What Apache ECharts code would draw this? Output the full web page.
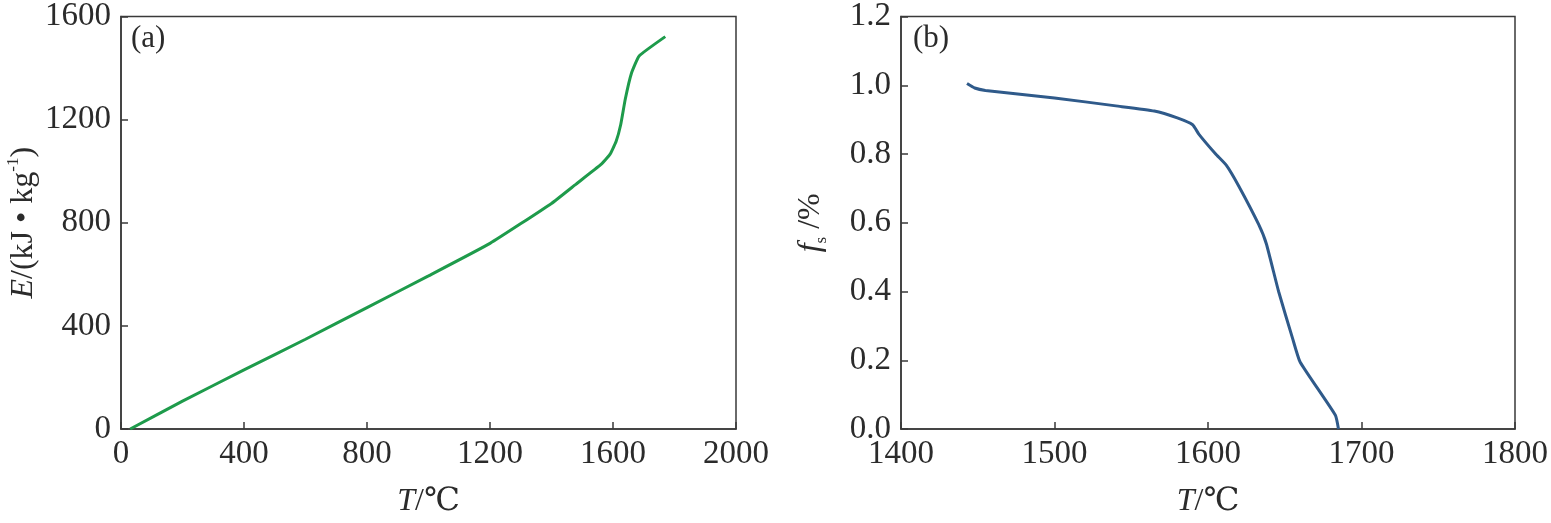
<!DOCTYPE html>
<html>
<head>
<meta charset="utf-8">
<script src="https://cdn.jsdelivr.net/npm/echarts@6/dist/echarts.min.js"></script>
<style>
html,body{margin:0;padding:0;background:#fff;}
#c{width:1551px;height:523px;}
</style>
</head>
<body>
<div id="c"></div>
<script>
// Panel (a): enthalpy E vs temperature T
const tempA = [30, 200, 400, 600, 800, 1000, 1200, 1400, 1480, 1560, 1590, 1610, 1625, 1640, 1660, 1685, 1770];
const enthalpyA = [0, 108, 229, 348, 471, 594, 720, 875, 950, 1025, 1065, 1115, 1180, 1280, 1380, 1447, 1522];
// Panel (b): solid fraction fs vs temperature T
const tempB = [1443, 1448, 1455, 1500, 1540, 1565, 1580, 1590, 1594, 1605, 1612, 1620, 1633, 1638, 1646, 1655, 1660, 1683, 1685];
const fracB = [1.005, 0.992, 0.985, 0.963, 0.940, 0.925, 0.905, 0.885, 0.858, 0.800, 0.767, 0.707, 0.595, 0.539, 0.400, 0.265, 0.195, 0.040, 0.0];
// Axis ticks
const xTicksA = [0, 400, 800, 1200, 1600, 2000];
const yTicksA = [0, 400, 800, 1200, 1600];
const xTicksB = [1400, 1500, 1600, 1700, 1800];
const yTicksB = [0.0, 0.2, 0.4, 0.6, 0.8, 1.0, 1.2];

const FONT = "'Liberation Serif','DejaVu Serif','Times New Roman',serif";
const TXT = '#2b2b2b';
const AX = '#3a3a3a';

function pairs(xs, ys){ return xs.map((x,i)=>[x, ys[i]]); }

function xAxisCfg(idx, ticks){
  return {
    type:'value', gridIndex: idx,
    min: ticks[0], max: ticks[ticks.length-1], interval: ticks[1]-ticks[0],
    name: '{i|T}/℃', nameLocation:'middle', nameGap: 57,
    nameTextStyle:{ fontFamily: FONT, fontSize: 32, color: TXT,
      rich:{ i:{ fontStyle:'italic', fontFamily: FONT, fontSize: 32, color: TXT } } },
    axisLine:{ show:true, lineStyle:{ color: AX, width: 1.5 } },
    axisTick:{ show:true, inside:true, length:7, lineStyle:{ color: AX, width: 1.5 } },
    axisLabel:{ fontFamily: FONT, fontSize: 33, color: TXT, margin: 9, formatter: v => String(v) },
    splitLine:{ show:false }
  };
}

function yAxisCfg(idx, ticks, decimals, name, rich, gap){
  return {
    type:'value', gridIndex: idx,
    min: ticks[0], max: ticks[ticks.length-1], interval: +(ticks[1]-ticks[0]).toFixed(6),
    name: name, nameLocation:'middle', nameGap: gap, nameRotate: 90,
    nameTextStyle:{ fontFamily: FONT, fontSize: 32, color: TXT, rich: rich },
    axisLine:{ show:true, lineStyle:{ color: AX, width: 1.5 } },
    axisTick:{ show:true, inside:true, length:7, lineStyle:{ color: AX, width: 1.5 } },
    axisLabel:{ fontFamily: FONT, fontSize: 33, color: TXT, margin: 10,
      formatter: v => decimals ? v.toFixed(decimals) : String(v) },
    splitLine:{ show:false }
  };
}

const chart = echarts.init(document.getElementById('c'), null, {renderer:'canvas'});
chart.setOption({
  backgroundColor:'#fff',
  animation:false,
  grid:[
    { left:121, top:14, width:615, height:429, show:true, borderColor: AX, borderWidth:1.5, backgroundColor:'transparent' },
    { left:901, top:14, width:616, height:429, show:true, borderColor: AX, borderWidth:1.5, backgroundColor:'transparent' }
  ],
  xAxis:[ xAxisCfg(0, xTicksA), xAxisCfg(1, xTicksB) ],
  yAxis:[
    yAxisCfg(0, yTicksA, 0, '{i|E}/(kJ • kg{s|-1})',
      { i:{ fontStyle:'italic', fontFamily: FONT, fontSize: 32, color: TXT, lineHeight: 38 },
        s:{ fontFamily: FONT, fontSize: 17, color: TXT, verticalAlign:'top', lineHeight: 17 } }, 78),
    yAxisCfg(1, yTicksB, 1, '{i|f}{s|s} /%',
      { i:{ fontStyle:'italic', fontFamily: FONT, fontSize: 32, color: TXT, lineHeight: 38 },
        s:{ fontFamily: FONT, fontSize: 17, color: TXT, verticalAlign:'bottom', lineHeight: 17 } }, 71)
  ],
  graphic:[
    { type:'text', left:131, top:23, style:{ text:'(a)', font: "31px 'Liberation Serif', serif", fill: TXT } },
    { type:'text', left:913, top:23, style:{ text:'(b)', font: "31px 'Liberation Serif', serif", fill: TXT } }
  ],
  series:[
    { type:'line', xAxisIndex:0, yAxisIndex:0, data: pairs(tempA, enthalpyA), showSymbol:false,
      smooth:0.12, lineStyle:{ color:'#1e9b4b', width:3 } },
    { type:'line', xAxisIndex:1, yAxisIndex:1, data: pairs(tempB, fracB), showSymbol:false,
      smooth:0.15, lineStyle:{ color:'#2f5a8a', width:3 } }
  ]
});
</script>
</body>
</html>
